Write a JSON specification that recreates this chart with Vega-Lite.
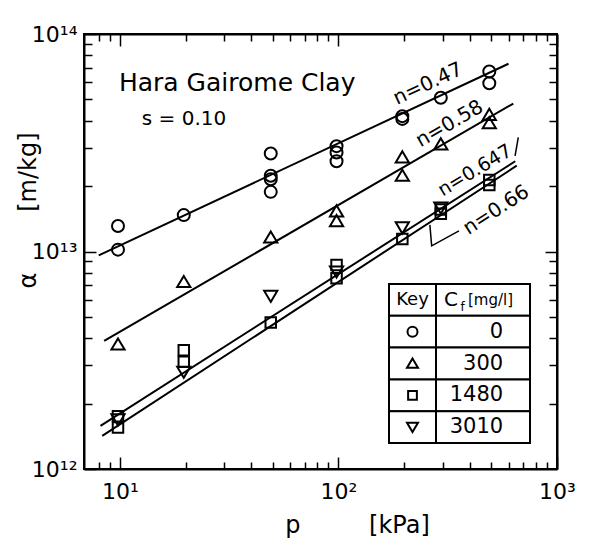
{
  "$schema": "https://vega.github.io/schema/vega-lite/v6.json",
  "width": 473,
  "height": 435,
  "autosize": {"type": "none"},
  "padding": {"left": 84, "top": 34, "right": 32, "bottom": 74},
  "config": {
    "view": {"stroke": "black", "strokeWidth": 2},
    "font": "DejaVu Sans",
    "axis": {
      "domainColor": "black", "domainWidth": 2, "tickColor": "black", "tickWidth": 1.5,
      "labelColor": "black", "titleColor": "black", "grid": false,
      "labelFont": "DejaVu Sans", "labelFontSize": 22, "titleFont": "DejaVu Sans",
      "titleFontSize": 24, "titleFontWeight": "normal", "labelOverlap": false, "labelFlush": false, "labelBound": false
    }
  },
  "datasets": {
    "points": [
      {"Cf": "0", "p": 9.8, "alpha": 1.31e13}, {"Cf": "0", "p": 9.8, "alpha": 1.02e13},
      {"Cf": "0", "p": 19.6, "alpha": 1.47e13},
      {"Cf": "0", "p": 49, "alpha": 2.82e13}, {"Cf": "0", "p": 49, "alpha": 2.23e13},
      {"Cf": "0", "p": 49, "alpha": 2.15e13}, {"Cf": "0", "p": 49, "alpha": 1.88e13},
      {"Cf": "0", "p": 98, "alpha": 3.05e13}, {"Cf": "0", "p": 98, "alpha": 2.85e13}, {"Cf": "0", "p": 98, "alpha": 2.6e13},
      {"Cf": "0", "p": 196, "alpha": 4.19e13}, {"Cf": "0", "p": 196, "alpha": 4.07e13},
      {"Cf": "0", "p": 294, "alpha": 5.09e13},
      {"Cf": "0", "p": 490, "alpha": 6.72e13}, {"Cf": "0", "p": 490, "alpha": 5.94e13},
      {"Cf": "300", "p": 9.8, "alpha": 3.74e12}, {"Cf": "300", "p": 19.6, "alpha": 7.24e12},
      {"Cf": "300", "p": 49, "alpha": 1.16e13},
      {"Cf": "300", "p": 98, "alpha": 1.53e13}, {"Cf": "300", "p": 98, "alpha": 1.38e13},
      {"Cf": "300", "p": 196, "alpha": 2.71e13}, {"Cf": "300", "p": 196, "alpha": 2.23e13},
      {"Cf": "300", "p": 294, "alpha": 3.11e13},
      {"Cf": "300", "p": 490, "alpha": 4.25e13}, {"Cf": "300", "p": 490, "alpha": 3.89e13},
      {"Cf": "1480", "p": 9.8, "alpha": 1.75e12}, {"Cf": "1480", "p": 9.8, "alpha": 1.55e12},
      {"Cf": "1480", "p": 19.6, "alpha": 3.52e12}, {"Cf": "1480", "p": 19.6, "alpha": 3.11e12},
      {"Cf": "1480", "p": 49, "alpha": 4.71e12},
      {"Cf": "1480", "p": 98, "alpha": 8.67e12}, {"Cf": "1480", "p": 98, "alpha": 7.53e12},
      {"Cf": "1480", "p": 196, "alpha": 1.14e13},
      {"Cf": "1480", "p": 294, "alpha": 1.56e13}, {"Cf": "1480", "p": 294, "alpha": 1.49e13},
      {"Cf": "1480", "p": 490, "alpha": 2.13e13}, {"Cf": "1480", "p": 490, "alpha": 2.02e13},
      {"Cf": "3010", "p": 9.8, "alpha": 1.69e12}, {"Cf": "3010", "p": 19.6, "alpha": 2.8e12},
      {"Cf": "3010", "p": 49, "alpha": 6.25e12}, {"Cf": "3010", "p": 98, "alpha": 8.09e12},
      {"Cf": "3010", "p": 196, "alpha": 1.29e13}, {"Cf": "3010", "p": 294, "alpha": 1.59e13}
    ],
    "fits": [
      {"fit": "n047", "p": 8.0, "alpha": 9.6e12}, {"fit": "n047", "p": 600, "alpha": 7.3e13},
      {"fit": "n058", "p": 8.47, "alpha": 3.88e12}, {"fit": "n058", "p": 631, "alpha": 4.79e13},
      {"fit": "n0647", "p": 8.15, "alpha": 1.58e12}, {"fit": "n0647", "p": 644, "alpha": 2.6e13},
      {"fit": "n066", "p": 8.3, "alpha": 1.42e12}, {"fit": "n066", "p": 654, "alpha": 2.48e13}
    ],
    "leaders": [
      {"name": "l066", "order": 1, "p": 356, "alpha": 1.245e13},
      {"name": "l066", "order": 2, "p": 267, "alpha": 1.062e13},
      {"name": "l066", "order": 3, "p": 262, "alpha": 1.325e13},
      {"name": "l0647", "order": 1, "p": 665, "alpha": 3.35e13},
      {"name": "l0647", "order": 2, "p": 643, "alpha": 2.75e13}
    ],
    "notes": [
      {"label": "Hara Gairome Clay", "p": 9.9, "alpha": 5.93e13},
      {"label": "s = 0.10", "p": 12.6, "alpha": 4.08e13},
      {"label": "n=0.47", "p": 257, "alpha": 5.9e13},
      {"label": "n=0.58", "p": 322, "alpha": 3.86e13},
      {"label": "n=0.647", "p": 421, "alpha": 2.36e13},
      {"label": "n=0.66", "p": 527, "alpha": 1.55e13}
    ],
    "keyrows": [
      {"row": "header", "key": "Key", "c": "C", "sub": "f", "unit": "[mg/l]"},
      {"row": "0"},
      {"row": "300"},
      {"row": "1480"},
      {"row": "3010"}
    ]
  },
  "layer": [
    {
      "layer": [
        {
          "data": {"name": "fits"},
          "mark": {"type": "line", "color": "black", "strokeWidth": 2},
          "encoding": {
            "x": {"field": "p", "type": "quantitative",
              "scale": {"type": "log", "domain": [6.85, 1000], "nice": false},
              "axis": {
                "orient": "bottom",
                "values": [8, 9, 10, 20, 30, 40, 50, 60, 70, 80, 90, 100, 200, 300, 400, 500, 600, 700, 800, 900, 1000],
                "labelExpr": "datum.value == 10 ? '10¹' : datum.value == 100 ? '10²' : datum.value == 1000 ? '10³' : ''",
                "tickSize": {"condition": {"test": "datum.value == 10 || datum.value == 100 || datum.value == 1000", "value": -12}, "value": -7},
                "labelBaseline": "middle",
                "labelPadding": 34,
                "title": "p\u00a0\u00a0\u00a0\u00a0\u00a0\u00a0\u00a0\u00a0\u00a0[kPa]",
                "titleX": 273, "titleY": 56, "titleBaseline": "middle", "titleAlign": "center"
              }
            },
            "y": {"field": "alpha", "type": "quantitative",
              "scale": {"type": "log", "domain": [1e12, 1e14], "nice": false},
              "axis": {
                "orient": "left",
                "values": [1e12, 2e12, 3e12, 4e12, 5e12, 6e12, 7e12, 8e12, 9e12, 1e13, 2e13, 3e13, 4e13, 5e13, 6e13, 7e13, 8e13, 9e13, 1e14],
                "labelExpr": "datum.value == 1e12 ? '10¹²' : datum.value == 1e13 ? '10¹³' : datum.value == 1e14 ? '10¹⁴' : ''",
                "tickSize": {"condition": {"test": "datum.value == 1e12 || datum.value == 1e13 || datum.value == 1e14", "value": -12}, "value": -8},
                "labelAlign": "right",
                "labelBaseline": "middle",
                "labelPadding": 19,
                "title": "α\u00a0\u00a0\u00a0\u00a0\u00a0\u00a0\u00a0\u00a0[m/kg]",
                "titleAngle": 270, "titleX": -56, "titleY": 176, "titleBaseline": "middle", "titleAlign": "center"
              }
            },
            "detail": {"field": "fit", "type": "nominal"}
          }
        },
        {
          "data": {"name": "points"},
          "mark": {"type": "point", "filled": false, "color": "black", "strokeWidth": 2, "size": 144, "opacity": 1},
          "encoding": {
            "x": {"field": "p", "type": "quantitative"},
            "y": {"field": "alpha", "type": "quantitative"},
            "shape": {
              "field": "Cf", "type": "nominal",
              "scale": {
                "domain": ["0", "300", "1480", "3010"],
                "range": [
                  "M -1 0 A 1 1 0 1 1 1 0 A 1 1 0 1 1 -1 0 Z",
                  "M 0 -1 L 1.1 0.85 L -1.1 0.85 Z",
                  "M -0.875 -0.875 L 0.875 -0.875 L 0.875 0.875 L -0.875 0.875 Z",
                  "M 0 1 L 1.1 -0.85 L -1.1 -0.85 Z"
                ]
              },
              "legend": null
            }
          }
        },
        {
          "data": {"name": "leaders"},
          "mark": {"type": "line", "color": "black", "strokeWidth": 1.5},
          "encoding": {
            "x": {"field": "p", "type": "quantitative"},
            "y": {"field": "alpha", "type": "quantitative"},
            "detail": {"field": "name", "type": "nominal"},
            "order": {"field": "order", "type": "quantitative"}
          }
        },
        {
          "data": {"name": "notes"},
          "transform": [{"filter": "datum.label == 'Hara Gairome Clay'"}],
          "mark": {"type": "text", "align": "left", "baseline": "middle", "font": "DejaVu Sans", "fontSize": 25, "color": "black"},
          "encoding": {
            "x": {"field": "p", "type": "quantitative"},
            "y": {"field": "alpha", "type": "quantitative"},
            "text": {"field": "label"}
          }
        },
        {
          "data": {"name": "notes"},
          "transform": [{"filter": "datum.label == 's = 0.10'"}],
          "mark": {"type": "text", "align": "left", "baseline": "middle", "font": "DejaVu Sans", "fontSize": 20, "color": "black"},
          "encoding": {
            "x": {"field": "p", "type": "quantitative"},
            "y": {"field": "alpha", "type": "quantitative"},
            "text": {"field": "label"}
          }
        },
        {
          "data": {"name": "notes"},
          "transform": [{"filter": "datum.label == 'n=0.47'"}],
          "mark": {"type": "text", "align": "center", "baseline": "middle", "font": "DejaVu Sans", "fontSize": 20, "angle": 335, "color": "black"},
          "encoding": {
            "x": {"field": "p", "type": "quantitative"},
            "y": {"field": "alpha", "type": "quantitative"},
            "text": {"field": "label"}
          }
        },
        {
          "data": {"name": "notes"},
          "transform": [{"filter": "datum.label == 'n=0.58'"}],
          "mark": {"type": "text", "align": "center", "baseline": "middle", "font": "DejaVu Sans", "fontSize": 20, "angle": 330, "color": "black"},
          "encoding": {
            "x": {"field": "p", "type": "quantitative"},
            "y": {"field": "alpha", "type": "quantitative"},
            "text": {"field": "label"}
          }
        },
        {
          "data": {"name": "notes"},
          "transform": [{"filter": "datum.label == 'n=0.647'"}],
          "mark": {"type": "text", "align": "center", "baseline": "middle", "font": "DejaVu Sans", "fontSize": 19, "angle": 329, "color": "black"},
          "encoding": {
            "x": {"field": "p", "type": "quantitative"},
            "y": {"field": "alpha", "type": "quantitative"},
            "text": {"field": "label"}
          }
        },
        {
          "data": {"name": "notes"},
          "transform": [{"filter": "datum.label == 'n=0.66'"}],
          "mark": {"type": "text", "align": "center", "baseline": "middle", "font": "DejaVu Sans", "fontSize": 20, "angle": 327, "color": "black"},
          "encoding": {
            "x": {"field": "p", "type": "quantitative"},
            "y": {"field": "alpha", "type": "quantitative"},
            "text": {"field": "label"}
          }
        }
      ]
    },
    {
      "data": {"name": "fits"},
      "mark": {"type": "point", "opacity": 0},
      "encoding": {
        "x": {"field": "p", "type": "quantitative",
          "scale": {"type": "log", "domain": [6.85, 1000], "nice": false},
          "axis": {
            "orient": "top", "labels": false, "title": null,
            "values": [8, 9, 10, 20, 30, 40, 50, 60, 70, 80, 90, 100, 200, 300, 400, 500, 600, 700, 800, 900, 1000],
            "tickSize": {"condition": {"test": "datum.value == 10 || datum.value == 100 || datum.value == 1000", "value": -12}, "value": -7}
          }
        },
        "y": {"field": "alpha", "type": "quantitative",
          "scale": {"type": "log", "domain": [1e12, 1e14], "nice": false},
          "axis": {
            "orient": "right", "labels": false, "title": null,
            "values": [2e12, 3e12, 4e12, 5e12, 6e12, 7e12, 8e12, 9e12, 1e13, 2e13, 3e13, 4e13, 5e13, 6e13, 7e13, 8e13, 9e13, 1e14],
            "tickSize": {"condition": {"test": "datum.value == 1e13 || datum.value == 1e14", "value": -12}, "value": -8}
          }
        }
      }
    },
    {
      "data": {"name": "keyrows"},
      "layer": [
        {
          "mark": {"type": "rect", "fill": "white", "stroke": "black", "strokeWidth": 2},
          "encoding": {
            "x": {"datum": 0, "type": "quantitative", "scale": {"domain": [0, 3], "range": [305, 446], "nice": false, "zero": false}, "axis": null},
            "x2": {"datum": 1},
            "y": {"field": "row", "type": "nominal", "scale": {"type": "band", "domain": ["header", "0", "300", "1480", "3010"], "range": [250, 409], "paddingInner": 0, "paddingOuter": 0}, "axis": null}
          }
        },
        {
          "mark": {"type": "rect", "fill": "white", "stroke": "black", "strokeWidth": 2},
          "encoding": {
            "x": {"datum": 1, "type": "quantitative"},
            "x2": {"datum": 3},
            "y": {"field": "row", "type": "nominal"}
          }
        },
        {
          "transform": [{"filter": "datum.row != 'header'"}],
          "mark": {"type": "point", "filled": false, "color": "black", "strokeWidth": 2, "size": 100, "opacity": 1},
          "encoding": {
            "x": {"datum": 0.5, "type": "quantitative"},
            "y": {"field": "row", "type": "nominal"},
            "shape": {"field": "row", "type": "nominal", "legend": null}
          }
        },
        {
          "transform": [{"filter": "datum.row != 'header'"}],
          "mark": {"type": "text", "align": "right", "baseline": "middle", "font": "DejaVu Sans", "fontSize": 21, "color": "black"},
          "encoding": {
            "x": {"datum": 2.43, "type": "quantitative"},
            "y": {"field": "row", "type": "nominal"},
            "text": {"field": "row"}
          }
        },
        {
          "transform": [{"filter": "datum.row == 'header'"}],
          "mark": {"type": "text", "align": "center", "baseline": "middle", "font": "DejaVu Sans", "fontSize": 18, "color": "black"},
          "encoding": {
            "x": {"datum": 0.5, "type": "quantitative"},
            "y": {"field": "row", "type": "nominal"},
            "text": {"field": "key"}
          }
        },
        {
          "transform": [{"filter": "datum.row == 'header'"}],
          "mark": {"type": "text", "align": "left", "baseline": "middle", "font": "DejaVu Sans", "fontSize": 20, "color": "black"},
          "encoding": {
            "x": {"datum": 1.17, "type": "quantitative"},
            "y": {"field": "row", "type": "nominal"},
            "text": {"field": "c"}
          }
        },
        {
          "transform": [{"filter": "datum.row == 'header'"}],
          "mark": {"type": "text", "align": "left", "baseline": "middle", "font": "DejaVu Sans", "fontSize": 12, "dy": 7, "color": "black"},
          "encoding": {
            "x": {"datum": 1.52, "type": "quantitative"},
            "y": {"field": "row", "type": "nominal"},
            "text": {"field": "sub"}
          }
        },
        {
          "transform": [{"filter": "datum.row == 'header'"}],
          "mark": {"type": "text", "align": "left", "baseline": "middle", "font": "DejaVu Sans", "fontSize": 15, "color": "black"},
          "encoding": {
            "x": {"datum": 1.68, "type": "quantitative"},
            "y": {"field": "row", "type": "nominal"},
            "text": {"field": "unit"}
          }
        }
      ]
    }
  ],
  "resolve": {"scale": {"x": "independent", "y": "independent"}}
}
